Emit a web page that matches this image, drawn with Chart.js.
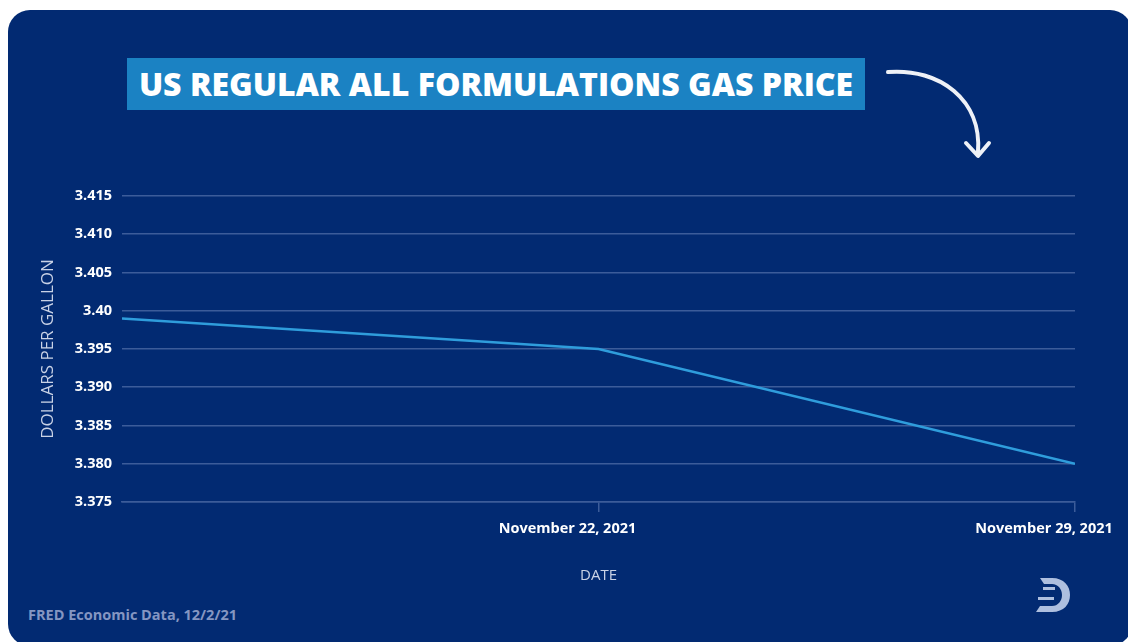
<!DOCTYPE html>
<html>
<head>
<meta charset="utf-8">
<script src="https://cdn.jsdelivr.net/npm/chart.js@4"></script>
<style>
  html, body { margin: 0; padding: 0; background: #ffffff; }
  body { width: 1128px; height: 642px; position: relative; overflow: hidden; font-family: "Open Sans", sans-serif; }
  #card { position: absolute; left: 8px; top: 10px; width: 1124px; height: 636px; background: #022a72; border-radius: 22px; }
  #title { position: absolute; left: 127px; top: 58px; width: 738px; height: 52px; background: #1b82c3;
           color: #fff; font-weight: 800; font-size: 32px; line-height: 52px; text-align: center; }
  #source { position: absolute; left: 28px; top: 605px; color: #8596c2; font-weight: 700; font-size: 14.5px; }
  #chart { position: absolute; left: 0; top: 0; }
  svg { position: absolute; left: 0; top: 0; }
</style>
</head>
<body>
<div id="card"></div>
<div id="title">US REGULAR ALL FORMULATIONS GAS PRICE</div>
<svg width="1128" height="642">
  <path d="M888 72 C 940 68, 982 100, 978 152" fill="none" stroke="#eef1f7" stroke-width="4" stroke-linecap="round"/>
  <path d="M966 143 L 978 156 L 989 143" fill="none" stroke="#eef1f7" stroke-width="4" stroke-linecap="round" stroke-linejoin="round"/>
  <g fill="#aebfdf">
    <path d="M1040 578 L1052 578 C 1064 578, 1070 586, 1070 595 C 1070 604, 1064 612, 1052 612 L1036 612 L1040 606 L1052 606 C 1058 606, 1062 601, 1062 595 C 1062 589, 1058 584, 1052 584 L1044 584 Z"/>
    <rect x="1043" y="587" width="12" height="3"/>
    <rect x="1038" y="597" width="16" height="3"/>
  </g>
</svg>
<div id="source">FRED Economic Data, 12/2/21</div>
<canvas id="chart" width="1128" height="642"></canvas>
<script>
// weekly observations, day of November 2021
const days = [15, 22, 29];
const prices = [3.399, 3.395, 3.380];
const xTickDays = [22, 29];
const xTickLabels = ["November 22, 2021", "November 29, 2021"];
const yTickLabels = ["3.375", "3.380", "3.385", "3.390", "3.395", "3.40", "3.405", "3.410", "3.415"];

const gridColor = "#3c5c9a";

new Chart(document.getElementById("chart"), {
    type: "line",
    data: {
        datasets: [{
            data: days.map((d, i) => ({ x: d, y: prices[i] })),
            borderColor: "#2f9ddc",
            borderWidth: 2.5,
            pointRadius: 0,
            tension: 0,
        }],
    },
    options: {
        responsive: false,
        animation: false,
        layout: { padding: { left: 36, right: 53, top: 196, bottom: 53 } },
        plugins: { legend: { display: false }, tooltip: { enabled: false } },
        scales: {
            x: {
                type: "linear",
                min: days[0],
                max: days[days.length - 1],
                afterBuildTicks: (s) => { s.ticks = xTickDays.map((v) => ({ value: v })); },
                afterFit: (s) => { s.height = 87; s.paddingLeft = 0; s.paddingRight = 0; },
                grid: { drawOnChartArea: false, color: gridColor, tickLength: 10, lineWidth: 1.5 },
                border: { color: gridColor, width: 1.5 },
                ticks: {
                    color: "#ffffff",
                    font: { family: "Open Sans", weight: "bold", size: 14.5 },
                    padding: 8,
                    labelOffset: -31,
                    maxRotation: 0,
                    callback: (v) => xTickLabels[xTickDays.indexOf(v)],
                },
                title: {
                    display: true,
                    text: "DATE",
                    color: "#c9d2e6",
                    font: { family: "Open Sans", size: 15 },
                },
            },
            y: {
                min: 3.375,
                max: 3.415,
                afterBuildTicks: (s) => { s.ticks = yTickLabels.map((t) => ({ value: parseFloat(t) })); },
                afterFit: (s) => { s.width = 86; },
                grid: { color: gridColor, drawTicks: false, lineWidth: 1.5 },
                border: { display: false },
                ticks: {
                    color: "#ffffff",
                    font: { family: "Open Sans", weight: "bold", size: 14.5 },
                    padding: 10,
                    callback: (v, i) => yTickLabels[i],
                },
                title: {
                    display: true,
                    text: "DOLLARS PER GALLON",
                    color: "#c9d2e6",
                    font: { family: "Open Sans", size: 17 },
                    padding: 2,
                },
            },
        },
    },
});
</script>
</body>
</html>
